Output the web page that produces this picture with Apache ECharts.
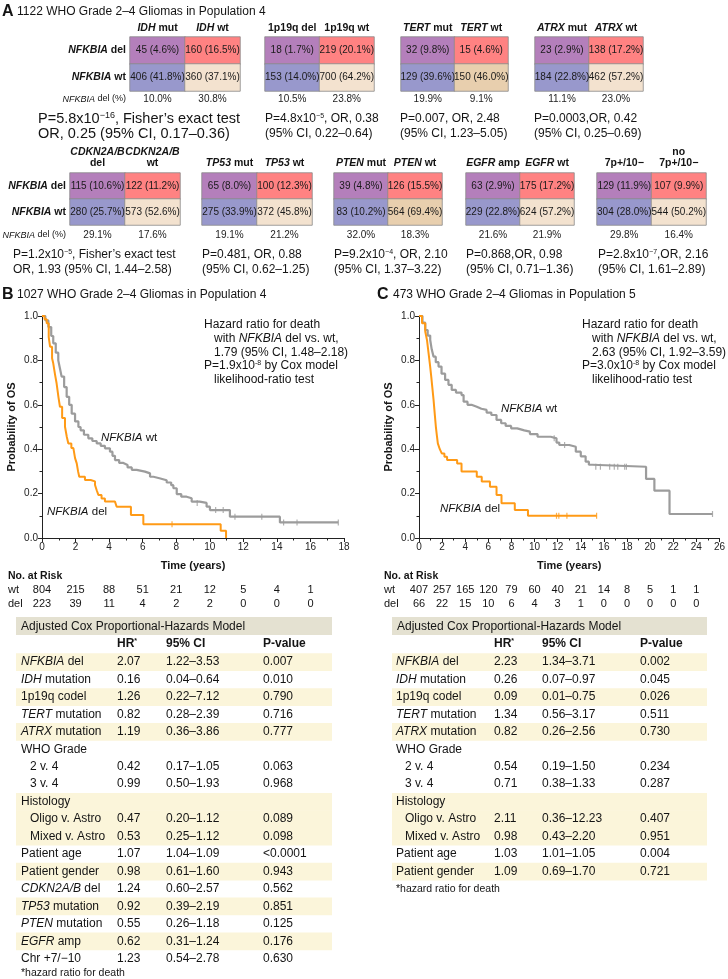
<!DOCTYPE html>
<html><head><meta charset="utf-8">
<script src="https://cdn.jsdelivr.net/npm/echarts@6/dist/echarts.min.js"></script>
<style>html,body{margin:0;padding:0;background:#fff}#c{width:728px;height:979px}</style>
</head><body><div id="c"></div>
<script>
// ================= DATA =================
// Panel A: 2x2 contingency tables
const aColHeaders = [
  ['{bi|IDH} mut', '{bi|IDH} wt'],
  ['1p19q del', '1p19q wt'],
  ['{bi|TERT} mut', '{bi|TERT} wt'],
  ['{bi|ATRX} mut', '{bi|ATRX} wt'],
  ['{bi|CDKN2A/B}\ndel', '{bi|CDKN2A/B}\nwt'],
  ['{bi|TP53} mut', '{bi|TP53} wt'],
  ['{bi|PTEN} mut', '{bi|PTEN} wt'],
  ['{bi|EGFR} amp', '{bi|EGFR} wt'],
  ['7p+/10−', 'no\n7p+/10−']
];
const aRowLabels = ['{bi|NFKBIA} del', '{bi|NFKBIA} wt'];
const aDelCounts = [[45,160],[18,219],[32,15],[23,138],[115,122],[65,100],[39,126],[63,175],[129,107]];
const aDelPct    = [[4.6,16.5],[1.7,20.1],[9.8,4.6],[2.9,17.2],[10.6,11.2],[8.0,12.3],[4.8,15.5],[2.9,17.2],[11.9,9.9]];
const aWtCounts  = [[406,360],[153,700],[129,150],[184,462],[280,573],[275,372],[83,564],[229,624],[304,544]];
const aWtPct     = [[41.8,37.1],[14.0,64.2],[39.6,46.0],[22.8,57.2],[25.7,52.6],[33.9,45.8],[10.2,69.4],[22.8,57.2],[28.0,50.2]];
const aDelRate   = [['10.0%','30.8%'],['10.5%','23.8%'],['19.9%','9.1%'],['11.1%','23.0%'],['29.1%','17.6%'],['19.1%','21.2%'],['32.0%','18.3%'],['21.6%','21.9%'],['29.8%','16.4%']];
const aStats = [
  ['P=5.8x10{sup|−16}, Fisher’s exact test', 'OR, 0.25 (95% CI, 0.17–0.36)'],
  ['P=4.8x10{sup|−5}, OR, 0.38', '(95% CI, 0.22–0.64)'],
  ['P=0.007, OR, 2.48', '(95% CI, 1.23–5.05)'],
  ['P=0.0003,OR, 0.42', '(95% CI, 0.25–0.69)'],
  ['P=1.2x10{sup|−5}, Fisher’s exact test', 'OR, 1.93 (95% CI, 1.44–2.58)'],
  ['P=0.481, OR, 0.88', '(95% CI, 0.62–1.25)'],
  ['P=9.2x10{sup|−4}, OR, 2.10', '(95% CI, 1.37–3.22)'],
  ['P=0.868,OR, 0.98', '(95% CI, 0.71–1.36)'],
  ['P=2.8x10{sup|−7},OR, 2.16', '(95% CI, 1.61–2.89)']
];

// Panel B: Kaplan-Meier, population 4 [time (years), survival]
const bWt = [[0,1],[0.2,0.98],[0.38,0.95],[0.55,0.91],[0.67,0.877],[0.82,0.835],[0.97,0.8],[1.08,0.76],[1.17,0.727],[1.32,0.68],[1.47,0.636],[1.62,0.6],[1.77,0.56],[1.97,0.525],[2.17,0.5],[2.3,0.485],[2.5,0.465],[2.76,0.449],[3.0,0.437],[3.26,0.426],[3.5,0.415],[3.75,0.404],[4.05,0.389],[4.2,0.37],[4.35,0.351],[4.6,0.338],[4.85,0.329],[5.1,0.318],[5.35,0.307],[5.64,0.299],[6.14,0.291],[6.44,0.276],[6.64,0.269],[7.0,0.26],[7.43,0.25],[7.7,0.238],[7.83,0.224],[8.03,0.198],[8.3,0.186],[8.62,0.179],[8.92,0.164],[9.4,0.158],[9.81,0.141],[10.01,0.126],[11.2,0.096],[14.18,0.07],[17.66,0.07]];
const bDel = [[0,1],[0.15,0.985],[0.28,0.967],[0.4,0.905],[0.48,0.862],[0.6,0.81],[0.67,0.787],[0.78,0.735],[0.87,0.697],[0.98,0.635],[1.07,0.591],[1.2,0.54],[1.37,0.501],[1.48,0.455],[1.57,0.426],[1.75,0.405],[1.87,0.396],[1.97,0.36],[2.07,0.336],[2.15,0.3],[2.22,0.276],[2.56,0.261],[2.9,0.255],[3.16,0.239],[3.26,0.215],[3.36,0.194],[3.55,0.178],[3.75,0.164],[4.35,0.156],[4.45,0.141],[5.3,0.104],[6.04,0.062],[10.65,0.033],[10.97,0]];
const bWtCensor = [[9.25,0.158],[10.35,0.126],[10.8,0.126],[11.5,0.096],[13.1,0.096],[14.4,0.07],[15.2,0.07],[17.66,0.07]];
const bDelCensor = [[7.75,0.062]];
const bRiskTimes = [0,2,4,6,8,10,12,14,16];
const bRiskWt  = [804,215,88,51,21,12,5,4,1];
const bRiskDel = [223,39,11,4,2,2,0,0,0];

// Panel C: Kaplan-Meier, population 5
const cWt = [[0,1],[0.3,0.97],[0.54,0.937],[0.75,0.912],[0.97,0.892],[1.1,0.85],[1.26,0.817],[1.45,0.792],[1.69,0.772],[1.95,0.74],[2.26,0.712],[2.55,0.69],[2.83,0.667],[3.2,0.655],[3.68,0.644],[3.86,0.614],[4.2,0.6],[4.54,0.591],[5.0,0.582],[5.4,0.577],[5.85,0.565],[6.26,0.554],[6.71,0.532],[7.11,0.517],[7.5,0.505],[7.97,0.494],[8.5,0.485],[9.11,0.479],[9.6,0.468],[10.26,0.456],[11.4,0.449],[11.9,0.43],[12.14,0.419],[13.0,0.411],[13.57,0.389],[14.0,0.368],[14.42,0.344],[14.7,0.33],[15.0,0.321],[19.65,0.266],[20.37,0.213],[21.68,0.108],[25.4,0.108]];
const cDel = [[0,1],[0.26,0.967],[0.54,0.93],[0.69,0.892],[0.83,0.832],[0.95,0.78],[1.06,0.727],[1.15,0.68],[1.26,0.622],[1.36,0.56],[1.46,0.501],[1.55,0.46],[1.63,0.426],[1.8,0.4],[1.97,0.381],[2.2,0.366],[2.43,0.351],[3.3,0.336],[3.68,0.299],[5.0,0.276],[5.43,0.254],[6.14,0.231],[6.71,0.194],[7.14,0.156],[8.29,0.126],[9.43,0.1],[15.37,0.1]];
const cWtCensor = [[11.7,0.449],[12.6,0.419],[15.3,0.321],[15.7,0.321],[16.5,0.321],[16.9,0.321],[17.2,0.321],[17.8,0.321],[17.95,0.321],[25.4,0.108]];
const cDelCensor = [[11.9,0.1],[12.1,0.1],[12.8,0.1],[15.37,0.1]];
const cRiskTimes = [0,2,4,6,8,10,12,14,16,18,20,22,24];
const cRiskWt  = [407,257,165,120,79,60,40,21,14,8,5,1,1];
const cRiskDel = [66,22,15,10,6,4,3,1,0,0,0,0,0];

// Cox tables (leading spaces = sub-row)
const coxBLabels = ['{i|NFKBIA} del','{i|IDH} mutation','1p19q codel','{i|TERT} mutation','{i|ATRX} mutation','WHO Grade','  2 v. 4','  3 v. 4','Histology','  Oligo v. Astro','  Mixed v. Astro','Patient age','Patient gender','{i|CDKN2A/B} del','{i|TP53} mutation','{i|PTEN} mutation','{i|EGFR} amp','Chr +7/−10'];
const coxBHR = ['2.07','0.16','1.26','0.82','1.19','','0.42','0.99','','0.47','0.53','1.07','0.98','1.24','0.92','0.55','0.62','1.23'];
const coxBCI = ['1.22–3.53','0.04–0.64','0.22–7.12','0.28–2.39','0.36–3.86','','0.17–1.05','0.50–1.93','','0.20–1.12','0.25–1.12','1.04–1.09','0.61–1.60','0.60–2.57','0.39–2.19','0.26–1.18','0.31–1.24','0.54–2.78'];
const coxBP  = ['0.007','0.010','0.790','0.716','0.777','','0.063','0.968','','0.089','0.098','<0.0001','0.943','0.562','0.851','0.125','0.176','0.630'];
const coxCLabels = ['{i|NFKBIA} del','{i|IDH} mutation','1p19q codel','{i|TERT} mutation','{i|ATRX} mutation','WHO Grade','  2 v. 4','  3 v. 4','Histology','  Oligo v. Astro','  Mixed v. Astro','Patient age','Patient gender'];
const coxCHR = ['2.23','0.26','0.09','1.34','0.82','','0.54','0.71','','2.11','0.98','1.03','1.09'];
const coxCCI = ['1.34–3.71','0.07–0.97','0.01–0.75','0.56–3.17','0.26–2.56','','0.19–1.50','0.38–1.33','','0.36–12.23','0.43–2.20','1.01–1.05','0.69–1.70'];
const coxCP  = ['0.002','0.045','0.026','0.511','0.730','','0.234','0.287','','0.407','0.951','0.004','0.721'];

// ================= LAYOUT / STYLE =================
const FONT = '"Liberation Sans", Arial, Helvetica, sans-serif';
const INK = '#141414';
const aBoxes = [
  [130,37,110,54],[265,37,109,54],[401,37,107,54],[535,37,108,54],
  [70,173,110,52],[202,173,110,52],[334,173,108,52],[466,173,108,52],[597,173,109,52]
];
const aStatX = [38,265,400,534,13,202,334,466,598];
const aStatFont = [14.5,12,12,12,12,12,12,12,12];
const C_TL = '#B47FBB', C_TR = '#FF8282', C_BL = '#9898CC', C_BR = '#F3E2CF', C_BR2 = '#E8CFAE';
const darkBR = new Set([2,6]);

function rich(fs, fw) {
  return {
    i:   {fontStyle:'italic', fontSize:fs, fontWeight:fw||'normal', fontFamily:FONT, fill:INK},
    bi:  {fontStyle:'italic', fontSize:fs, fontWeight:'bold', fontFamily:FONT, fill:INK},
    sup: {fontSize:Math.round(fs*0.62), fontWeight:fw||'normal', fontFamily:FONT, fill:INK, verticalAlign:'top', lineHeight:Math.round(fs*0.62)}
  };
}
function T(x, y, text, o) {
  o = o || {};
  const fs = o.fontSize || 12;
  return {type:'text', x:x, y:y, silent:true, z:10,
    style:{text:text, fontFamily:FONT, fontSize:fs, fontWeight:o.fontWeight||'normal',
      fill:o.fill||INK, align:o.align||'left', verticalAlign:'middle', rich:rich(fs, o.fontWeight)}};
}
function R(x, y, w, h, fill) {
  return {type:'rect', silent:true, z:1, shape:{x:x,y:y,width:w,height:h}, style:{fill:fill}};
}

const grids = [], xAxes = [], yAxes = [], series = [], gfx = [];

// ---- Panel A heatmaps ----
aBoxes.forEach((b, i) => {
  const row2 = i >= 4;
  grids.push({left:b[0], top:b[1], width:b[2], height:b[3]});
  const axRich = {bi:{fontStyle:'italic', fontWeight:'bold', fontSize:10.5, fontFamily:FONT, color:INK, lineHeight:11}};
  xAxes.push({gridIndex:i, type:'category', position:'top', data:aColHeaders[i],
    axisLine:{show:false}, axisTick:{show:false}, splitLine:{show:false},
    axisLabel:{interval:0, fontSize:10.5, fontWeight:'bold', fontFamily:FONT, color:INK, margin:row2?4:3, lineHeight:11, rich:axRich}});
  xAxes.push({gridIndex:i, type:'category', position:'bottom', data:aDelRate[i],
    axisLine:{show:false}, axisTick:{show:false}, splitLine:{show:false},
    axisLabel:{interval:0, fontSize:10, fontFamily:FONT, color:'#222', margin:row2?5:3}});
  yAxes.push({gridIndex:i, type:'category', inverse:true, data:aRowLabels,
    axisLine:{show:false}, axisTick:{show:false}, splitLine:{show:false},
    axisLabel:{show:(i===0||i===4), interval:0, fontSize:10.5, fontWeight:'bold', fontFamily:FONT, color:INK, margin:4, rich:axRich}});
  const cells = [
    {value:[0,0,aDelCounts[i][0]], itemStyle:{color:C_TL}},
    {value:[1,0,aDelCounts[i][1]], itemStyle:{color:C_TR}},
    {value:[0,1,aWtCounts[i][0]],  itemStyle:{color:C_BL}},
    {value:[1,1,aWtCounts[i][1]],  itemStyle:{color:darkBR.has(i)?C_BR2:C_BR}}
  ];
  series.push({type:'heatmap', xAxisIndex:2*i, yAxisIndex:i, data:cells, silent:true,
    itemStyle:{borderColor:'#8a8a8a', borderWidth:0.8},
    emphasis:{disabled:true},
    label:{show:true, fontSize:10, fontFamily:FONT, color:'#1a1a1a',
      formatter:p => {
        const c = p.value[0], r = p.value[1];
        const n = r===0 ? aDelCounts[i][c] : aWtCounts[i][c];
        const pc = r===0 ? aDelPct[i][c] : aWtPct[i][c];
        return n + ' (' + pc.toFixed(1) + '%)';
      }}});
  const sy = row2 ? [255,270] : [119,134];
  gfx.push(T(aStatX[i], sy[0], aStats[i][0], {fontSize:aStatFont[i]}));
  gfx.push(T(aStatX[i], sy[1], aStats[i][1], {fontSize:aStatFont[i]}));
});
gfx.push(T(126, 99, '{i|NFKBIA} del (%)', {fontSize:9}));
gfx[gfx.length-1].style.align = 'right';
gfx.push(T(66, 235, '{i|NFKBIA} del (%)', {fontSize:9, align:'right'}));

// Titles
gfx.push(T(2, 12, 'A', {fontSize:16, fontWeight:'bold'}));
gfx.push(T(17, 12, '1122 WHO Grade 2–4 Gliomas in Population 4', {fontSize:12}));
gfx.push(T(2, 295, 'B', {fontSize:16, fontWeight:'bold'}));
gfx.push(T(17, 295, '1027 WHO Grade 2–4 Gliomas in Population 4', {fontSize:12}));
gfx.push(T(377, 295, 'C', {fontSize:16, fontWeight:'bold'}));
gfx.push(T(393, 295, '473 WHO Grade 2–4 Gliomas in Population 5', {fontSize:12}));

// ---- KM plots ----
const GREY = '#9C9C9C', ORANGE = '#FF9A16';
function kmAxes(gi, left, width, xmax) {
  grids.push({left:left, top:316, width:width, height:222});
  xAxes.push({gridIndex:gi, type:'value', min:0, max:xmax, interval:2,
    axisLine:{show:true, onZero:false, lineStyle:{color:'#222', width:1}},
    axisTick:{show:true, length:4, lineStyle:{color:'#222'}},
    minorTick:{show:true, splitNumber:2, length:2.5, lineStyle:{color:'#222'}},
    splitLine:{show:false}, minorSplitLine:{show:false},
    axisLabel:{fontSize:10, fontFamily:FONT, color:'#222', margin:4, showMinLabel:true, showMaxLabel:true},
    name:'Time (years)', nameLocation:'middle', nameGap:22,
    nameTextStyle:{fontSize:11, fontWeight:'bold', fontFamily:FONT, color:INK}});
  yAxes.push({gridIndex:gi, type:'value', min:0, max:1, interval:0.2,
    axisLine:{show:true, onZero:false, lineStyle:{color:'#222', width:1}},
    axisTick:{show:true, length:4, lineStyle:{color:'#222'}},
    minorTick:{show:true, splitNumber:2, length:2.5, lineStyle:{color:'#222'}},
    splitLine:{show:false}, minorSplitLine:{show:false},
    axisLabel:{fontSize:10, fontFamily:FONT, color:'#222', margin:4, formatter:v => v.toFixed(1)},
    name:'Probability of OS', nameLocation:'middle', nameGap:25,
    nameTextStyle:{fontSize:11, fontWeight:'bold', fontFamily:FONT, color:INK}});
}
function kmSeries(xi, yi, wt, del, wtC, delC) {
  series.push({type:'line', xAxisIndex:xi, yAxisIndex:yi, step:'end', symbol:'none', silent:true, z:3,
    data:wt, lineStyle:{color:GREY, width:2.2}});
  series.push({type:'line', xAxisIndex:xi, yAxisIndex:yi, step:'end', symbol:'none', silent:true, z:4,
    data:del, lineStyle:{color:ORANGE, width:2}});
  series.push({type:'scatter', xAxisIndex:xi, yAxisIndex:yi, symbol:'rect', symbolSize:[1.2,6], silent:true, z:3,
    data:wtC, itemStyle:{color:GREY}});
  series.push({type:'scatter', xAxisIndex:xi, yAxisIndex:yi, symbol:'rect', symbolSize:[1.2,6], silent:true, z:4,
    data:delC, itemStyle:{color:ORANGE}});
}
kmAxes(9, 42, 302, 18);   // xAxis 18, yAxis 9
kmAxes(10, 419, 303, 26); // xAxis 19, yAxis 10
kmSeries(18, 9, bWt, bDel, bWtCensor, bDelCensor);
kmSeries(19, 10, cWt, cDel, cWtCensor, cDelCensor);

// KM annotations
function hrNote(x, hr, p) {
  gfx.push(T(x, 325, 'Hazard ratio for death'));
  gfx.push(T(x+10, 339, 'with {i|NFKBIA} del vs. wt,'));
  gfx.push(T(x+10, 353, hr));
  gfx.push(T(x, 366, p));
  gfx.push(T(x+10, 380, 'likelihood-ratio test'));
}
hrNote(204, '1.79 (95% CI, 1.48–2.18)', 'P=1.9x10{sup|-8} by Cox model');
hrNote(582, '2.63 (95% CI, 1.92–3.59)', 'P=3.0x10{sup|-8} by Cox model');
gfx.push(T(101, 438, '{i|NFKBIA} wt', {fontSize:11.5}));
gfx.push(T(47, 512, '{i|NFKBIA} del', {fontSize:11.5}));
gfx.push(T(501, 409, '{i|NFKBIA} wt', {fontSize:11.5}));
gfx.push(T(440, 509, '{i|NFKBIA} del', {fontSize:11.5}));
gfx.push(T(8, 576, 'No. at Risk', {fontSize:10.5, fontWeight:'bold'}));
gfx.push(T(8, 590, 'wt', {fontSize:11}));
gfx.push(T(8, 604, 'del', {fontSize:11}));
gfx.push(T(384, 576, 'No. at Risk', {fontSize:10.5, fontWeight:'bold'}));
gfx.push(T(384, 590, 'wt', {fontSize:11}));
gfx.push(T(384, 604, 'del', {fontSize:11}));

// ---- Cox tables ----
function coxTable(x0, w, cols, labels, hr, ci, p, footY) {
  gfx.push(R(x0, 617, w, 18, '#E4E1D1'));
  gfx.push(T(x0+5, 626.5, 'Adjusted Cox Proportional-Hazards Model', {fontSize:12}));
  gfx.push(T(cols[1], 644, 'HR{sup|*}', {fontSize:12, fontWeight:'bold'}));
  gfx.push(T(cols[2], 644, '95% CI', {fontSize:12, fontWeight:'bold'}));
  gfx.push(T(cols[3], 644, 'P-value', {fontSize:12, fontWeight:'bold'}));
  let group = -1;
  const step = 17.45;
  labels.forEach((lab, k) => {
    const sub = lab.startsWith('  ');
    if (!sub) group++;
    const yc = 662 + k*step;
    if (group % 2 === 0) gfx.push(R(x0, yc - step/2, w, step + 0.3, '#FBF5DA'));
    gfx.push(T(cols[0] + (sub ? 9 : 0), yc, lab.trim(), {fontSize:12}));
    if (hr[k]) gfx.push(T(cols[1], yc, hr[k], {fontSize:12}));
    if (ci[k]) gfx.push(T(cols[2], yc, ci[k], {fontSize:12}));
    if (p[k])  gfx.push(T(cols[3], yc, p[k], {fontSize:12}));
  });
  gfx.push(T(cols[0], footY, '*hazard ratio for death', {fontSize:10.5}));
}
coxTable(16, 316, [21,117,166,263], coxBLabels, coxBHR, coxBCI, coxBP, 973);
coxTable(392, 315, [396,494,542,640], coxCLabels, coxCHR, coxCCI, coxCP, 889);

const chart = echarts.init(document.getElementById('c'), null, {renderer:'canvas'});
chart.setOption({
  animation:false, backgroundColor:'#fff',
  textStyle:{fontFamily:FONT},
  grid:grids, xAxis:xAxes, yAxis:yAxes, series:series, graphic:gfx
});

// At-risk numbers aligned with the KM x axes
function riskRow(xAxisIndex, times, vals, y) {
  times.forEach((t, k) => {
    const px = chart.convertToPixel({xAxisIndex:xAxisIndex}, t);
    gfx.push(T(px, y, String(vals[k]), {fontSize:11, align:'center'}));
  });
}
riskRow(18, bRiskTimes, bRiskWt, 590);
riskRow(18, bRiskTimes, bRiskDel, 604);
riskRow(19, cRiskTimes, cRiskWt, 590);
riskRow(19, cRiskTimes, cRiskDel, 604);
chart.setOption({graphic:gfx});
</script></body></html>
